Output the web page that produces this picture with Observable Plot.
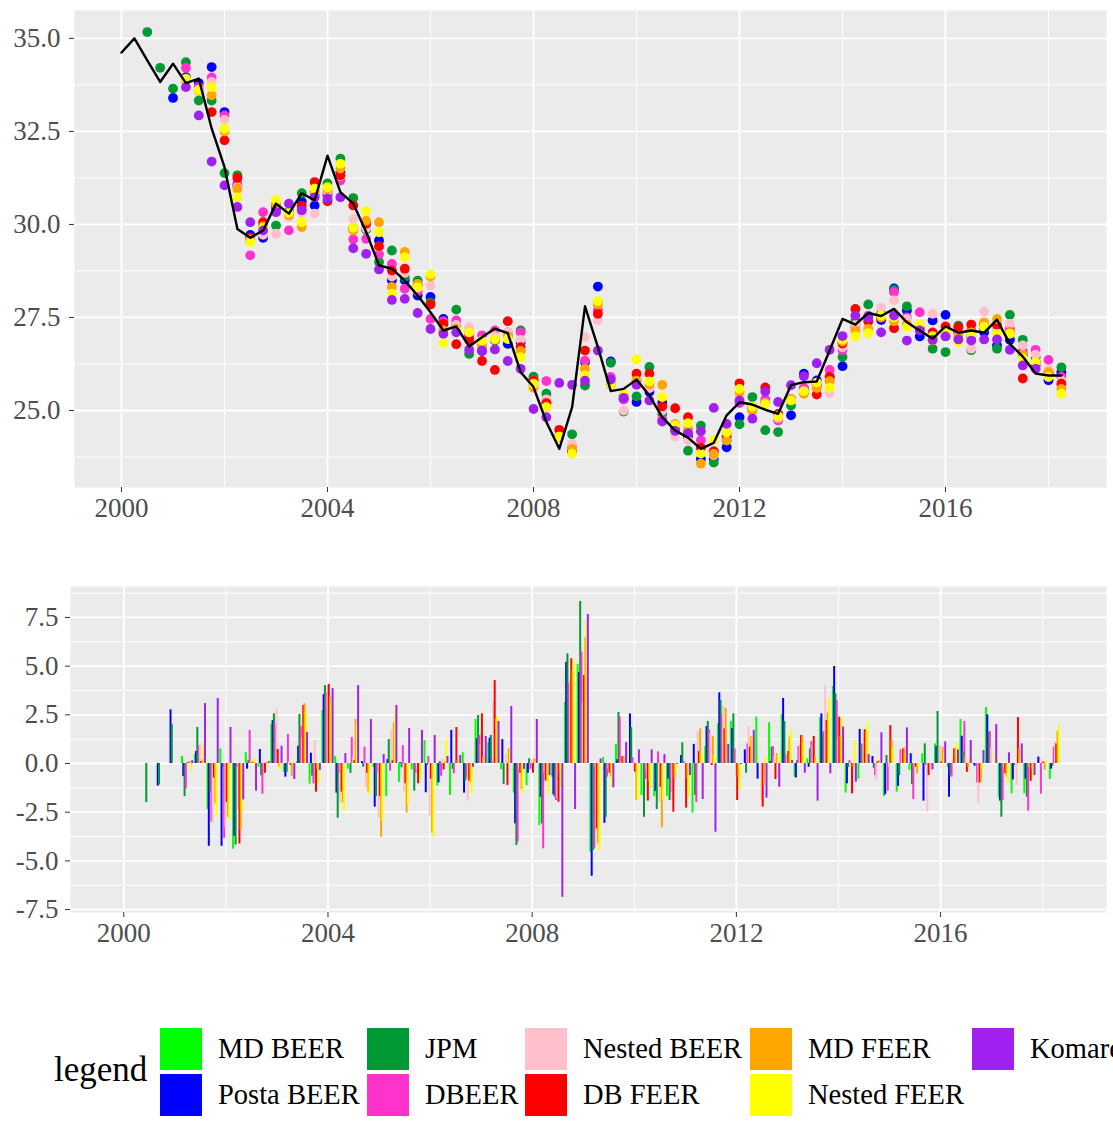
<!DOCTYPE html>
<html>
<head>
<meta charset="utf-8">
<script src="https://cdn.jsdelivr.net/npm/d3@7"></script>
<script src="https://cdn.jsdelivr.net/npm/@observablehq/plot@0.6"></script>
<style>
  html, body { margin: 0; padding: 0; background: #ffffff; }
  body { width: 1113px; height: 1124px; overflow: hidden; position: relative; font-family: "Liberation Serif", "DejaVu Serif", serif; }
  #top, #bottom, #legend { position: absolute; left: 0; }
  #top { top: 0; }
  #bottom { top: 540px; }
  .lg-title { position: absolute; font-size: 35px; color: #000; line-height: 40px; }
  .lg-key { position: absolute; width: 42px; height: 42px; }
  .lg-label { position: absolute; font-size: 28.5px; color: #000; white-space: nowrap; line-height: 42px; }
</style>
</head>
<body>
<div id="top"></div>
<div id="bottom"></div>
<div id="legend"></div>
<script>
// ---------------- DATA ----------------
const seriesNames = ["MD BEER", "Posta BEER", "JPM", "DBEER", "Nested BEER", "DB FEER", "MD FEER", "Nested FEER", "Komarek"];
const seriesColors = ["#00FF00", "#0000FF", "#009933", "#FF33CC", "#FFC0CB", "#FF0000", "#FFA500", "#FFFF00", "#A020F0"];
const legendTitle = "legend";

const firstYear = 2000;      // quarterly observations, 2000Q1 ... 2018Q2
const nQuarters = 74;

const xTicks = [2000, 2004, 2008, 2012, 2016];
const xMinor = [2002, 2006, 2010, 2014, 2018];
const yTicksTop = [25, 27.5, 30, 32.5, 35];
const yMinorTop = [23.75, 26.25, 28.75, 31.25, 33.75];
const yTicksBottom = [-7.5, -5, -2.5, 0, 2.5, 5, 7.5];
const yMinorBottom = [-6.25, -3.75, -1.25, 1.25, 3.75, 6.25, 8.75];

// consensus line (top panel)
const avgLine = [
  34.62,35.0,34.41,33.83, 34.32,33.80,33.92,32.58, 31.54,29.88,29.64,29.84, 30.56,30.29,30.84,30.65,
  31.85,30.87,30.56,29.80, 28.90,28.81,28.49,28.09, 27.64,27.15,27.26,26.72, 26.97,27.20,27.08,26.03,
  25.63,24.69,23.97,25.09, 27.80,26.70,25.52,25.58, 25.83,25.40,24.82,24.46, 24.27,23.97,24.13,24.87,
  25.22,25.16,25.02,24.91, 25.68,25.76,25.78,26.61, 27.46,27.31,27.62,27.54, 27.73,27.37,27.15,26.93,
  27.26,27.09,27.15,27.09, 27.44,26.79,26.45,25.99, 25.94,25.94
];

// levels (top panel), one value per quarter
const topMDBEER = new Array(74).fill(null);
const topPosta = [
  null,null,null,null, 33.40,33.96,33.80,34.23, 33.02,31.05,29.72,29.64, 30.4,30.3,30.62,30.51,
  30.8,31.4,29.9,29.88, 29.57,28.5,28.5,28.09, 28.05,27.46,27.3,27.0, 26.6,26.9,26.79,26.84,
  25.85,25.2,24.3,23.9, 26.3,28.33,26.32,25.3, 25.23,25.5,25.2,24.6, 24.3,23.7,23.7,24.01,
  24.82,25.1,25.2,24.9, 24.87,25.99,25.81,25.9, 26.19,27.3,27.5,27.43, 28.28,27.69,26.99,27.42,
  27.57,27.1,27.0,27.1, 26.75,26.9,26.5,26.3, 25.81,26.03
];
const topJPM = [
  null,null,35.17,34.21, 33.65,34.36,33.33,33.33, 31.38,31.32,29.55,30.0, 29.97,30.35,30.84,30.9,
  31.1,31.77,30.71,29.86, 28.99,29.30,28.58,28.49, 27.9,27.3,27.71,26.52, 26.7,26.88,27.0,27.15,
  25.91,25.45,24.3,24.36, 25.67,27.9,26.28,24.97, 25.38,26.17,24.91,24.5, 23.92,24.59,23.60,24.2,
  24.63,25.36,24.47,24.42, 25.13,25.6,25.7,25.8, 26.44,27.4,27.85,27.6, 28.24,27.80,27.2,26.66,
  26.57,27.28,26.62,27.2, 26.66,27.57,26.90,26.43, 26.0,26.16
];
const topDBEER = [
  null,null,null,null, null,34.21,33.7,33.95, 32.93,31.1,29.17,30.33, 30.35,29.84,30.4,30.8,
  30.85,31.18,29.6,29.61, 29.2,28.94,28.27,28.2, 27.46,27.4,27.42,27.0, 27.02,27.15,27.1,27.1,
  25.7,25.79,24.35,24.0, 26.34,27.7,25.9,25.3, 25.8,25.6,24.75,24.48, 24.4,24.2,23.9,24.4,
  25.2,25.0,25.3,24.73, 25.3,25.6,25.7,26.09, 26.62,27.24,27.55,27.5, 28.18,27.5,27.64,27.0,
  27.0,27.1,27.15,27.3, 27.2,27.2,26.6,26.63, 26.36,25.9
];
const topNestedBEER = [
  null,null,null,null, null,33.92,33.62,33.83, 32.81,31.0,29.6,29.72, 29.75,30.2,30.3,30.29,
  30.9,31.3,30.15,29.9, 29.4,28.6,28.7,28.3, 28.36,27.2,27.3,27.24, 26.7,27.0,27.1,26.9,
  25.8,25.3,24.4,24.1, 26.97,27.42,25.8,25.0, 25.9,25.6,25.0,24.3, 24.2,24.0,23.8,24.3,
  25.4,25.1,25.2,24.8, 25.3,25.5,25.6,25.47, 26.7,27.3,27.4,27.76, 27.96,27.46,27.3,27.60,
  27.1,27.2,26.66,27.66, 27.19,27.33,26.75,26.5, 26.1,25.8
];
const topDBFEER = [
  null,null,null,null, null,33.88,33.6,33.02, 32.26,31.25,29.65,30.06, 30.5,30.29,30.5,31.14,
  30.62,31.32,30.51,30.02, 29.41,28.76,28.81,28.36, 27.85,27.33,26.78,26.9, 26.33,26.09,27.40,26.7,
  25.8,25.2,24.48,23.9, 26.61,27.60,25.7,25.4, 25.99,25.99,25.11,25.06, 24.82,24.0,23.9,24.3,
  25.73,25.05,25.62,24.9, 25.3,25.5,25.43,25.90, 26.8,27.73,27.4,27.5, 27.21,27.3,27.2,27.10,
  27.26,27.24,27.31,27.3, 27.3,27.1,25.86,26.21, 26.0,25.72
];
const topMDFEER = [
  null,null,null,null, null,33.9,33.6,33.47, 32.5,30.96,29.6,29.95, 30.55,30.25,29.93,30.9,
  30.95,31.5,29.84,30.1, 30.06,28.32,29.26,28.4, 28.6,27.15,27.2,27.1, 26.75,26.9,27.0,26.6,
  25.61,25.1,24.3,23.97, 26.12,27.85,25.69,25.4, 25.8,25.7,25.69,24.64, 24.5,23.57,23.83,24.19,
  25.5,25.0,25.2,24.85, 25.3,25.45,25.6,25.79, 26.85,27.15,27.19,27.5, 27.4,27.3,27.2,26.88,
  27.1,27.0,27.1,27.37, 27.46,27.1,26.5,26.3, 26.03,25.58
];
const topNestedFEER = [
  null,null,null,null, null,33.90,33.61,33.69, 32.57,30.73,29.53,29.9, 30.66,30.31,30.06,30.96,
  31.0,31.63,29.91,30.36, 29.79,28.14,29.12,28.31, 28.66,26.81,27.15,27.10, 26.88,26.92,26.92,26.43,
  25.72,25.08,24.30,23.84, 25.94,27.94,25.7,25.45, 26.37,25.78,25.36,24.6, 24.66,23.84,24.21,24.41,
  25.58,25.1,25.17,24.84, 25.27,25.52,25.75,25.61, 26.91,26.99,27.08,27.55, 27.5,27.24,27.31,27.0,
  27.1,26.84,27.02,27.25, 27.06,27.06,26.39,26.3, 25.90,25.45
];
const topKomarek = [
  null,null,null,null, null,33.69,32.93,31.69, 31.05,30.47,30.06,29.84, 30.33,30.56,30.38,30.73,
  30.69,30.73,29.36,29.21, 28.79,27.97,28.0,27.62, 27.19,27.06,27.1,26.63, 26.61,26.64,26.33,26.12,
  25.04,24.82,25.74,25.69, 25.80,26.61,25.83,25.34, 25.69,25.27,24.7,24.45, 24.39,24.44,25.07,24.64,
  25.27,24.78,25.51,25.23, 25.68,25.92,26.27,26.63, 27.0,27.55,27.5,27.10, 27.55,26.88,27.15,26.9,
  26.99,26.91,26.88,26.91, 26.91,26.63,26.21,26.12, null,null
];

// quarterly changes (bottom panel)
const chgMDBEER = [
  null,null,null,null, null,0.36,0.46,-2.36, 0.75,-4.4,0.56,-0.19, 2.0,-0.45,0.1,-1.06,
  2.72,0.36,-0.29,0.0, -0.2,-1.7,-0.96,-0.33, 1.18,-1.16,-1.64,0.56, 2.26,1.06,-0.31,-1.52,
  -1.13,-3.18,-0.7,3.13, 5.09,-4.55,0.31,0.98, 0.0,-1.64,-1.7,-1.68, 0.0,-2.55,0.87,2.04,
  2.16,0.0,2.38,2.1, 2.52,-0.7,0.24,2.36, 3.96,-1.52,-0.8,0.0, -1.7,-1.47,-0.36,0.5,
  1.01,-0.2,2.26,-0.05, 2.88,-1.76,-1.56,-1.56, 0.0,-0.82
];
const chgPosta = [
  null,null,null,-1.16, 2.76,-0.67,0.62,-4.25, -4.25,-3.73,-0.29,0.72, 2.2,-0.7,0.89,0.53,
  3.54,-1.52,0.0,0.1, -2.24,0.2,0.05,0.0, -1.5,-0.99,1.7,-1.52, 1.27,1.3,1.23,-3.1,
  -0.5,-1.73,-1.61,5.19, 4.67,-5.79,-3.07,0.2, 2.55,0.0,-1.44,-0.8, 0.41,0.98,1.9,3.63,
  1.8,0.7,-0.8,0.1, 3.34,-0.74,-0.19,2.55, 4.98,-1.04,1.75,0.36, -1.6,-1.18,0.5,-1.93,
  0.87,-1.73,1.4,-0.14, 2.5,-1.93,-0.84,-0.8, 0.33,-0.29
];
const chgJPM = [
  null,null,-2.0,-1.1, 2.0,-1.7,1.85,-1.5, -0.2,-4.18,0.15,-0.63, 2.55,-0.45,2.52,-0.65,
  4.0,-2.81,-0.5,-0.19, -1.7,1.23,-0.22,-1.42, -0.1,0.1,-0.3,-0.9, 2.47,1.44,-1.08,-4.21,
  0.24,-3.1,-1.73,5.63, 8.32,-4.47,-2.76,2.62, 1.85,-2.76,-2.36,-1.9, 1.06,-1.64,2.16,3.24,
  2.55,-0.5,0.0,0.84, 2.16,0.15,0.75,1.52, 3.58,-0.2,1.01,-0.24, 0.41,-0.62,-1.08,1.01,
  2.67,-0.62,0.6,0.0, 1.6,-2.76,-0.1,-1.73, 0.0,-0.14
];
const chgDBEER = [
  null,null,null,null, null,-1.3,0.92,-3.0, -3.84,-0.2,1.7,-1.58, 2.0,1.49,1.9,-1.04,
  3.61,-0.5,1.34,0.84, -0.5,-0.39,0.92,-0.5, 0.36,-0.65,-0.53,-0.75, 1.44,0.2,0.0,-4.04,
  -0.3,-4.38,-1.9,4.1, 5.72,-4.38,-0.7,2.38, 0.3,-0.82,0.6,-1.5, 0.1,-1.99,1.73,2.5,
  0.75,1.01,0.0,0.87, 0.4,0.87,1.11,1.64, 3.24,0.15,0.98,-0.62, -1.42,0.7,-1.85,-0.1,
  0.0,-0.7,2.16,-1.0, 1.64,-1.9,0.0,-2.45, -1.58,0.84
];
const chgNestedBEER = [
  null,null,null,null, null,0.1,0.95,-3.07, -3.3,-2.4,0.1,0.1, 2.83,0.1,1.3,1.18,
  3.96,-2.0,0.3,-1.27, -2.79,1.7,-1.47,-0.3, -2.7,0.24,0.1,-1.93, 0.98,3.13,0.46,-0.2,
  0.2,-0.5,-1.8,4.3, 3.1,-0.2,-0.3,0.1, -0.39,-0.4,-1.99,-1.9, 0.0,1.61,1.56,2.93,
  -0.7,1.9,-1.9,0.3, 0.5,1.0,1.0,3.99, 1.3,-0.1,1.61,-0.87, -0.2,0.75,-0.2,-2.5,
  0.92,0.24,0.3,-2.04, 0.8,-0.2,-1.13,-0.2, 0.2,1.1
];
const chgDBFEER = [
  null,null,null,null, null,0.05,0.1,-0.75, -2.0,-4.13,0.05,-0.5, 0.72,-0.1,2.98,-1.47,
  4.06,-1.47,0.15,-0.5, -1.7,0.15,-1.04,-1.04, -0.8,-0.33,1.85,-0.9, 2.55,4.26,-1.13,-0.5,
  -0.5,-0.9,-1.99,5.38, 4.52,-3.36,-0.5,0.36, -0.45,-1.93,-1.22,-2.5, -2.29,0.62,-0.1,1.78,
  -1.9,0.84,-2.24,-0.82, 0.62,1.44,1.39,2.21, 2.38,-1.56,1.73,0.1, 1.95,0.75,-0.2,-0.62,
  0.1,0.75,-0.45,-1.0, 0.0,-0.53,2.36,-0.91, 0.07,1.01
];
const chgMDFEER = [
  null,null,null,null, null,0.1,0.2,-2.07, -2.76,-3.4,0.1,0.05, -0.19,-0.65,3.08,-0.3,
  3.41,-2.04,2.26,-1.47, -3.78,2.1,-2.55,0.0, -3.58,0.1,0.15,-1.0, 0.33,2.29,0.75,-1.34,
  0.24,-0.92,-0.5,4.78, 6.46,-4.13,-0.7,0.36, -1.9,-0.9,-3.3,-0.79, -0.8,1.78,1.39,2.83,
  -0.7,1.39,-1.13,0.5, 1.35,1.44,0.3,2.6, 1.4,-0.2,1.65,0.15, 1.18,0.8,-0.53,-0.1,
  0.84,0.8,-0.2,-0.96, 0.0,-0.7,0.75,-0.3, -0.33,1.64
];
const chgNestedFEER = [
  null,null,null,null, null,-0.33,1.0,-2.76, -2.9,-2.5,0.29,-0.1, -0.33,0.1,2.64,-1.04,
  3.2,-2.45,2.0,-1.64, -2.93,2.6,-2.16,-0.82, -3.78,1.22,0.1,-1.56, 0.2,2.41,0.67,-1.52,
  0.1,-1.61,-1.22,5.29, 7.31,-4.5,-1.25,0.0, -1.9,-1.3,-1.9,-0.5, -1.73,0.5,0.4,0.0,
  -1.35,1.35,0.3,0.41, 1.73,1.01,0.1,3.37, 2.33,1.18,2.12,0.0, 0.75,0.5,-0.2,0.0,
  0.5,1.06,0.3,-0.3, 0.5,-1.01,0.33,-0.7, 0.15,1.94
];
const chgKomarek = [
  null,null,null,null, null,0.14,3.08,3.34, 1.85,-1.87,-1.42,0.1, 0.89,-0.82,1.59,-0.36,
  3.85,0.51,4.0,2.26, 0.46,2.98,1.8,1.7, 1.44,0.36,0.41,-0.19, 1.39,2.16,2.93,-0.3,
  2.26,-0.62,-6.87,-2.36, 7.65,0.24,-1.25,1.08, 0.7,0.7,0.46,-0.05, -0.62,-1.85,-3.53,0.98,
  -0.05,1.7,-1.78,-1.22, 0.15,-0.5,-1.93,-0.53, 1.87,-0.96,0.46,1.58, 0.0,1.83,0.0,-0.33,
  1.11,0.7,1.18,0.67, 2.0,0.55,1.01,-0.62, null,null
];

// ---------------- BUILD TABLES ----------------
const quarterTime = d3.range(nQuarters).map(q => firstYear + q / 4);
const topSeries = [topMDBEER, topPosta, topJPM, topDBEER, topNestedBEER, topDBFEER, topMDFEER, topNestedFEER, topKomarek];
const chgSeries = [chgMDBEER, chgPosta, chgJPM, chgDBEER, chgNestedBEER, chgDBFEER, chgMDFEER, chgNestedFEER, chgKomarek];

const topData = [];
topSeries.forEach((arr, s) => arr.forEach((v, q) => {
  if (v != null) topData.push({t: quarterTime[q], v, series: seriesNames[s]});
}));
const lineData = avgLine.map((v, q) => ({t: quarterTime[q], v}));

const dodgeWidth = 0.9 * 0.25;             // ggplot position_dodge inside one quarter
const barW = dodgeWidth / seriesNames.length;
const barData = [];
chgSeries.forEach((arr, s) => arr.forEach((v, q) => {
  if (v != null) {
    const left = quarterTime[q] - dodgeWidth / 2 + s * barW;
    barData.push({x1: left, x2: left + barW, v, series: seriesNames[s]});
  }
}));

const fontStyle = {fontFamily: "'Liberation Serif', 'DejaVu Serif', serif", fontSize: "27px", color: "#333333", background: "transparent", overflow: "visible"};
const colorScale = {domain: seriesNames, range: seriesColors};
const gridMarks = (yMaj, yMin) => [
  Plot.frame({fill: "#EBEBEB", stroke: null}),
  Plot.ruleY(yMin, {stroke: "white", strokeWidth: 0.9}),
  Plot.ruleX(xMinor, {stroke: "white", strokeWidth: 0.9}),
  Plot.ruleY(yMaj, {stroke: "white", strokeWidth: 1.8}),
  Plot.ruleX(xTicks, {stroke: "white", strokeWidth: 1.8})
];

// ---------------- TOP PANEL ----------------
const topPlot = Plot.plot({
  width: 1113, height: 530,
  marginLeft: 74, marginRight: 7, marginTop: 10, marginBottom: 43,
  style: fontStyle,
  x: {type: "linear", domain: [1999.087, 2019.126]},
  y: {domain: [22.93, 35.75]},
  color: colorScale,
  marks: [
    ...gridMarks(yTicksTop, yMinorTop),
    Plot.dot(topData, {x: "t", y: "v", fill: "series", r: 4.9}),
    Plot.line(lineData, {x: "t", y: "v", stroke: "black", strokeWidth: 2.4}),
    Plot.axisX({ticks: xTicks, tickFormat: d => String(d), tickSize: 5, tickPadding: 5, label: null, fill: "#4D4D4D"}),
    Plot.axisY({ticks: yTicksTop, tickFormat: d => d.toFixed(1), tickSize: 5, tickPadding: 9, label: null, fill: "#4D4D4D"})
  ]
});
document.getElementById("top").appendChild(topPlot);

// ---------------- BOTTOM PANEL ----------------
const bottomPlot = Plot.plot({
  width: 1113, height: 420,
  marginLeft: 70, marginRight: 7, marginTop: 46, marginBottom: 48,
  style: fontStyle,
  x: {type: "linear", domain: [1998.956, 2019.25]},
  y: {domain: [-7.65, 9.09]},
  color: colorScale,
  marks: [
    ...gridMarks(yTicksBottom, yMinorBottom),
    Plot.rect(barData, {x1: "x1", x2: "x2", y1: 0, y2: "v", fill: "series", insetLeft: -0.35, insetRight: -0.35}),
    Plot.axisX({ticks: xTicks, tickFormat: d => String(d), tickSize: 5, tickPadding: 5, label: null, fill: "#4D4D4D"}),
    Plot.axisY({ticks: yTicksBottom, tickFormat: d => d.toFixed(1), tickSize: 5, tickPadding: 7, label: null, fill: "#4D4D4D"})
  ]
});
document.getElementById("bottom").appendChild(bottomPlot);

// ---------------- LEGEND (two rows, column-major like ggplot) ----------------
const legend = document.getElementById("legend");
legend.style.top = "0px";
const colX = [160, 367, 525, 750, 972];
const rowY = [1028, 1074];
const title = document.createElement("div");
title.className = "lg-title";
title.textContent = legendTitle;
title.style.left = "54px";
title.style.top = "1050px";
legend.appendChild(title);
seriesNames.forEach((name, k) => {
  const c = Math.floor(k / 2), r = k % 2;
  const key = document.createElement("div");
  key.className = "lg-key";
  key.style.left = colX[c] + "px";
  key.style.top = rowY[r] + "px";
  key.style.background = seriesColors[k];
  legend.appendChild(key);
  const lab = document.createElement("div");
  lab.className = "lg-label";
  lab.textContent = name;
  lab.style.left = (colX[c] + 58) + "px";
  lab.style.top = rowY[r] + "px";
  legend.appendChild(lab);
});
</script>
</body>
</html>
